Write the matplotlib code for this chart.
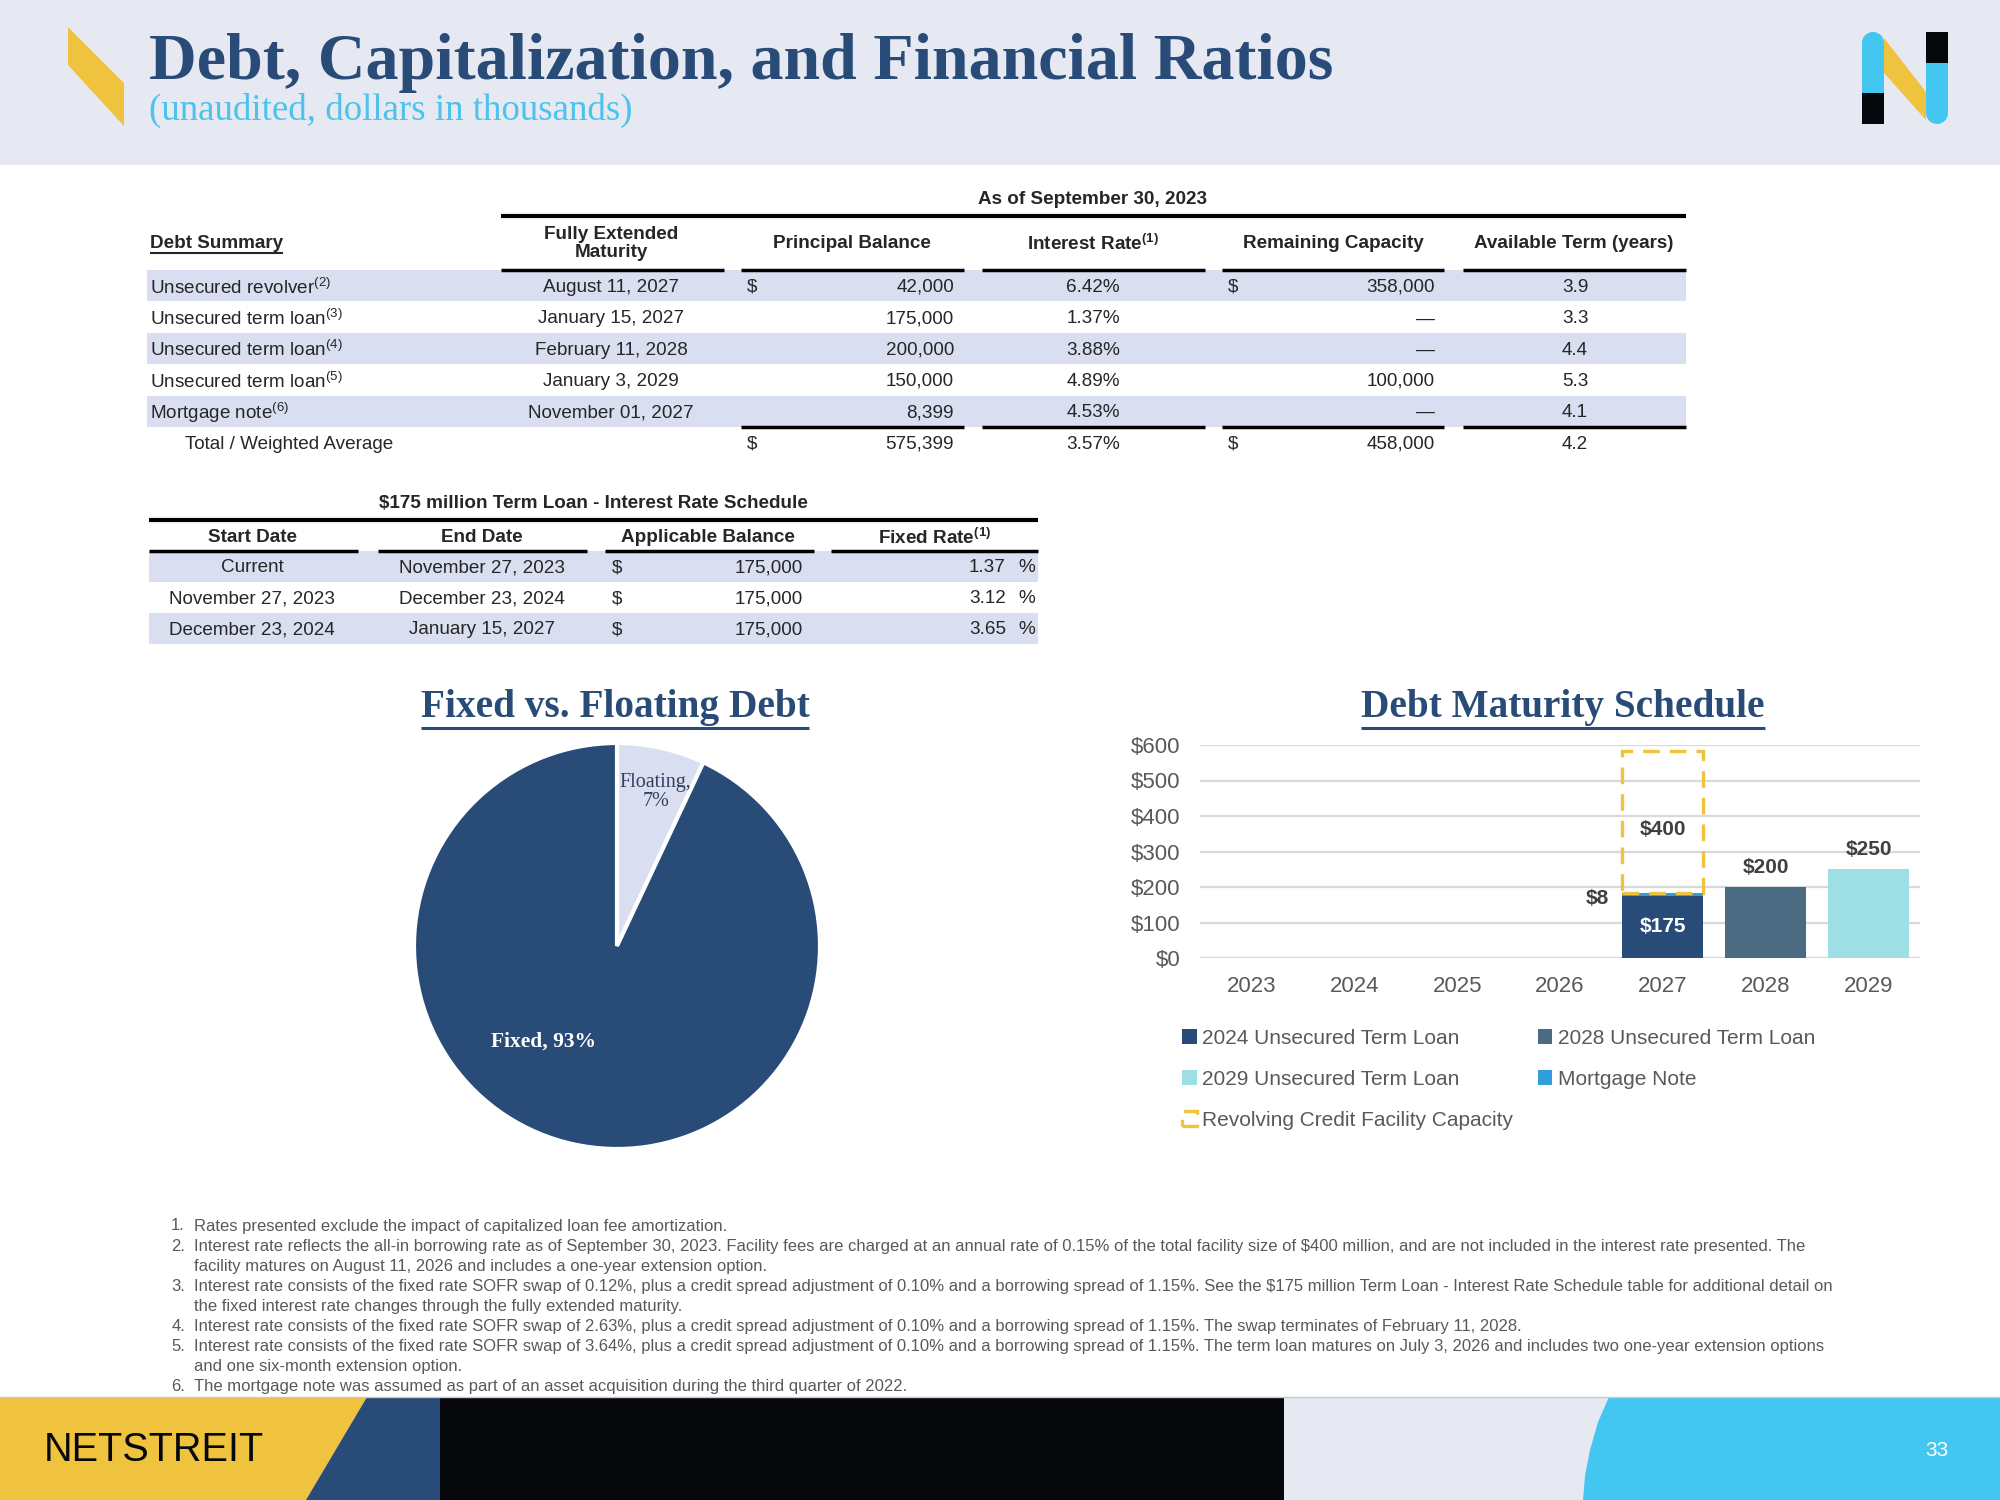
import matplotlib
matplotlib.use("Agg")
import matplotlib.pyplot as plt
from matplotlib.patches import Polygon, Rectangle, Circle

plt.rcParams['font.family'] = ['Liberation Sans', 'DejaVu Sans']

NAVY = '#284B78'
SLATE = '#4B6B83'
AQUA = '#9EDFE6'
BLUE = '#2E9FDA'
YELLOW = '#F0C33F'
CYAN = '#43C6EF'
PALE = '#E6E9F2'
SHADE = '#D9DFF0'
INK = '#262626'
GREY = '#595959'
SERIF = ['Liberation Serif', 'DejaVu Serif']

# ---- debt summary
debt_names = ["Unsecured revolver", "Unsecured term loan", "Unsecured term loan",
              "Unsecured term loan", "Mortgage note"]
debt_notes = ["2", "3", "4", "5", "6"]
maturity = ["August 11, 2027", "January 15, 2027", "February 11, 2028",
            "January 3, 2029", "November 01, 2027"]
principal = [42000, 175000, 200000, 150000, 8399]
rates = [6.42, 1.37, 3.88, 4.89, 4.53]
capacity = [358000, 0, 0, 100000, 0]
term_years = [3.9, 3.3, 4.4, 5.3, 4.1]
total_rate = 3.57
total_term = 4.2

# ---- $175m term loan schedule
sched_start = ["Current", "November 27, 2023", "December 23, 2024"]
sched_end = ["November 27, 2023", "December 23, 2024", "January 15, 2027"]
sched_balance = [175000, 175000, 175000]
sched_rate = [1.37, 3.12, 3.65]

# ---- pie
pie_labels = ["Floating", "Fixed"]
pie_shares = [7, 93]

# ---- maturity schedule ($ millions)
years = ["2023", "2024", "2025", "2026", "2027", "2028", "2029"]
term24 = [0, 0, 0, 0, 175, 0, 0]
mortgage = [0, 0, 0, 0, 8, 0, 0]
term28 = [0, 0, 0, 0, 0, 200, 0]
term29 = [0, 0, 0, 0, 0, 0, 250]
revolver = [0, 0, 0, 0, 400, 0, 0]

footnotes = [
    ("1.", "Rates presented exclude the impact of capitalized loan fee amortization."),
    ("2.", "Interest rate reflects the all-in borrowing rate as of September 30, 2023. Facility fees are charged at an annual rate of 0.15% of the total facility size of $400 million, and are not included in the interest rate presented. The"),
    ("", "facility matures on August 11, 2026 and includes a one-year extension option."),
    ("3.", "Interest rate consists of the fixed rate SOFR swap of 0.12%, plus a credit spread adjustment of 0.10% and a borrowing spread of 1.15%. See the $175 million Term Loan - Interest Rate Schedule table for additional detail on"),
    ("", "the fixed interest rate changes through the fully extended maturity."),
    ("4.", "Interest rate consists of the fixed rate SOFR swap of 2.63%, plus a credit spread adjustment of 0.10% and a borrowing spread of 1.15%. The swap terminates of February 11, 2028."),
    ("5.", "Interest rate consists of the fixed rate SOFR swap of 3.64%, plus a credit spread adjustment of 0.10% and a borrowing spread of 1.15%. The term loan matures on July 3, 2026 and includes two one-year extension options"),
    ("", "and one six-month extension option."),
    ("6.", "The mortgage note was assumed as part of an asset acquisition during the third quarter of 2022."),
]

fig = plt.figure(figsize=(20, 15), dpi=100)
bg = fig.add_axes([0, 0, 1, 1])
bg.set_xlim(0, 2000)
bg.set_ylim(1500, 0)
bg.axis('off')

FS = 13.6  # table text


def txt(x, y, s, ha='left', bold=False, size=FS, color=INK, **kw):
    return bg.text(x, y + 1.5, s, ha=ha, va='center', fontsize=size,
                   fontweight='bold' if bold else 'normal', color=color, **kw)


def hline(x0, x1, y, lw=2.5, color='black'):
    bg.plot([x0, x1], [y, y], color=color, lw=lw, solid_capstyle='butt')


# header band
bg.add_patch(Rectangle((0, 0), 2000, 165, color=PALE, lw=0))
bg.add_patch(Polygon([(68, 27), (124, 83), (124, 126), (68, 65)], color=YELLOW, lw=0))
bg.text(149, 79, "Debt, Capitalization, and Financial Ratios", family=SERIF,
        fontsize=47.5, fontweight='bold', color=NAVY, va='baseline')
bg.text(149, 110, "(unaudited, dollars in thousands)", family=SERIF,
        fontsize=26.6, color='#4DC3EC', va='center')

# logo
bg.add_patch(Polygon([(1884, 38), (1926, 92), (1926, 120), (1884, 73)], color=YELLOW, lw=0))
bg.add_patch(Rectangle((1862, 43), 22, 50, color=CYAN, lw=0))
bg.add_patch(Circle((1873, 43), 11, color=CYAN, lw=0))
bg.add_patch(Rectangle((1862, 93), 22, 31, color='#07080C', lw=0))
bg.add_patch(Rectangle((1926, 32), 22, 31, color='#07080C', lw=0))
bg.add_patch(Rectangle((1926, 63), 22, 50, color=CYAN, lw=0))
bg.add_patch(Circle((1937, 113), 11, color=CYAN, lw=0))

# ---- debt summary table
row_y = [285.7, 317.4, 348.6, 380.0, 411.0]
tot_y = 442.6
for i in range(0, 5, 2):
    bg.add_patch(Rectangle((147, row_y[i] - 15.5), 1539, 31, color=SHADE, lw=0))

txt(1092, 198, "As of September 30, 2023", ha='center', bold=True)
hline(501, 1686, 215.6, lw=3)
t_ds = txt(150, 242, "Debt Summary", bold=True)
txt(611, 233, "Fully Extended", ha='center', bold=True)
txt(611, 251, "Maturity", ha='center', bold=True)
txt(852, 242, "Principal Balance", ha='center', bold=True)
txt(1093, 242, r"Interest Rate$^{\mathregular{(1)}}$", ha='center', bold=True)
txt(1333, 242, "Remaining Capacity", ha='center', bold=True)
txt(1574, 242, "Available Term (years)", ha='center', bold=True)
for a, b in [(501, 724), (741, 964), (982, 1205), (1222, 1444), (1463, 1686)]:
    hline(a, b, 270.4)
    if a > 600:
        hline(a, b, 427.3)

for i, y in enumerate(row_y):
    txt(150, y, debt_names[i] + r"$^{\mathregular{(" + debt_notes[i] + ")}}$")
    txt(611, y, maturity[i], ha='center')
    if i == 0:
        txt(747, y, "$")
    txt(954, y, f"{principal[i]:,}", ha='right')
    txt(1093, y, f"{rates[i]:.2f}%", ha='center')
    if i == 0:
        txt(1228, y, "$")
    txt(1435, y, f"{capacity[i]:,}" if capacity[i] else "\u2014", ha='right')
    txt(1575, y, f"{term_years[i]:.1f}", ha='center')

txt(185, tot_y, "Total / Weighted Average")
txt(747, tot_y, "$")
txt(954, tot_y, f"{sum(principal):,}", ha='right')
txt(1093, tot_y, f"{total_rate:.2f}%", ha='center')
txt(1228, tot_y, "$")
txt(1435, tot_y, f"{sum(capacity):,}", ha='right')
txt(1575, tot_y, f"{total_term:.1f}", ha='center')

# ---- term loan schedule table
s_y = [566.3, 597.3, 628.5]
for i in (0, 2):
    bg.add_patch(Rectangle((149, s_y[i] - 15.5), 889, 31, color=SHADE, lw=0))
txt(593, 502.5, "$175 million Term Loan - Interest Rate Schedule", ha='center', bold=True)
hline(149, 1038, 520.4, lw=3)
txt(252, 535.7, "Start Date", ha='center', bold=True)
txt(482, 535.7, "End Date", ha='center', bold=True)
txt(708, 535.7, "Applicable Balance", ha='center', bold=True)
txt(935, 535.7, r"Fixed Rate$^{\mathregular{(1)}}$", ha='center', bold=True)
for a, b in [(149, 358), (378, 587), (605, 814), (831, 1038)]:
    hline(a, b, 551)
for i, y in enumerate(s_y):
    txt(252, y, sched_start[i], ha='center')
    txt(482, y, sched_end[i], ha='center')
    txt(612, y, "$")
    txt(803, y, f"{sched_balance[i]:,}", ha='right')
    txt(1006, y, f"{sched_rate[i]:.2f}", ha='right')
    txt(1027, y, "%", ha='center')

# ---- pie
t_pie = bg.text(615, 707, "Fixed vs. Floating Debt", ha='center', va='center',
                family=SERIF, fontsize=28.3, fontweight='bold', color=NAVY)
ax_p = fig.add_axes([414 / 2000, 1 - 1149 / 1500, 406 / 2000, 406 / 1500])
ax_p.pie(pie_shares, colors=['#D9DEF0', NAVY], startangle=90, counterclock=False,
         wedgeprops=dict(edgecolor='white', linewidth=3))
ax_p.set_xlim(-1, 1)
ax_p.set_ylim(-1, 1)
for p in ax_p.patches:
    p.set_clip_on(False)
ax_p.text(0.19, 0.76, f"{pie_labels[0]},\n{pie_shares[0]}%", ha='center', va='center',
          family=SERIF, fontsize=14.5, color='#33405E', linespacing=1.0)
ax_p.text(-0.36, -0.47, f"{pie_labels[1]}, {pie_shares[1]}%", ha='center', va='center',
          family=SERIF, fontsize=15.5, fontweight='bold', color='white')

# ---- maturity bar chart
t_bar = bg.text(1563, 707, "Debt Maturity Schedule", ha='center', va='center',
                family=SERIF, fontsize=28.3, fontweight='bold', color=NAVY)
ax = fig.add_axes([1200 / 2000, 1 - 958 / 1500, 720 / 2000, 213 / 1500])
x = list(range(len(years)))
w = 0.79
b1 = ax.bar(x, term24, w, color=NAVY, label="2024 Unsecured Term Loan", zorder=3)
bm = ax.bar(x, mortgage, w, bottom=term24, color=BLUE, label="Mortgage Note", zorder=3)
b2 = ax.bar(x, term28, w, color=SLATE, label="2028 Unsecured Term Loan", zorder=3)
b3 = ax.bar(x, term29, w, color=AQUA, label="2029 Unsecured Term Loan", zorder=3)
base = [a + b for a, b in zip(term24, mortgage)]
br = ax.bar(x, revolver, w, bottom=base, fill=False,
            edgecolor=[YELLOW if v else 'none' for v in revolver], lw=2.4,
            linestyle=(0, (5, 3)), label="Revolving Credit Facility Capacity", zorder=4)
ax.set_xlim(-0.5, 6.5)
ax.set_ylim(0, 600)
ax.set_yticks(range(0, 601, 100))
ax.set_yticklabels([f"${v}" for v in range(0, 601, 100)])
ax.set_xticks(x)
ax.set_xticklabels(years)
ax.tick_params(length=0, labelsize=16, colors=GREY)
ax.tick_params(axis='y', pad=14)
ax.tick_params(axis='x', pad=13)
ax.grid(axis='y', color='#D9D9D9', lw=1.6, zorder=0)
for s in ax.spines.values():
    s.set_visible(False)
ax.axhline(0, color='#D9D9D9', lw=1.6, zorder=1)
ax.set_facecolor('none')

lab = dict(fontsize=15, fontweight='bold', color='#404040', ha='center', va='center')
for i in x:
    if term24[i]:
        ax.text(i, term24[i] / 2, f"${term24[i]}", **dict(lab, color='white'))
    if mortgage[i]:
        ax.text(i - 0.52, base[i] - 14, f"${mortgage[i]}", **dict(lab, ha='right'))
    if revolver[i]:
        ax.text(i, base[i] + revolver[i] * 0.45, f"${revolver[i]}", **lab)
    if term28[i]:
        ax.text(i, term28[i] + 55, f"${term28[i]}", **lab)
    if term29[i]:
        ax.text(i, term29[i] + 55, f"${term29[i]}", **lab)
legend_handles = [b1, b3, br, b2, bm]
leg = fig.legend(handles=legend_handles, loc='upper left',
                 bbox_to_anchor=(1182 / 2000, 1 - 1029 / 1500), ncol=2, frameon=False,
                 fontsize=15, labelcolor=GREY, handlelength=0.7, handleheight=0.7,
                 handletextpad=0.25, columnspacing=1.2, labelspacing=1.05,
                 borderaxespad=0, borderpad=0)
for h in leg.legend_handles:
    if h.get_fill() is False:
        h.set_edgecolor(YELLOW)

# ---- footnotes
for k, (num, line) in enumerate(footnotes):
    y = 1224.5 + k * 20.1
    if num:
        txt(185, y, num, ha='right', size=12, color=GREY)
    txt(194, y, line, size=12, color=GREY)

# ---- footer
bg.add_patch(Rectangle((0, 1397), 2000, 103, color=PALE, lw=0))
bg.plot([0, 2000], [1396.5, 1396.5], color='#C8C8C8', lw=1)
bg.add_patch(Polygon([(0, 1397), (367, 1397), (306, 1500), (0, 1500)], color=YELLOW, lw=0))
bg.add_patch(Polygon([(367, 1397), (440, 1397), (440, 1500), (306, 1500)], color=NAVY, lw=0))
bg.add_patch(Rectangle((440, 1397), 844, 103, color='#07080C', lw=0))
bg.add_patch(Polygon([(1609, 1397), (1598, 1422), (1590, 1450), (1585, 1476), (1583, 1500),
                      (2000, 1500), (2000, 1397)], color=CYAN, lw=0))
bg.text(44, 1450, "NETSTREIT", fontsize=28.5, color='#07080C', va='center')
bg.text(1937, 1450, "33", fontsize=15, color='white', va='center', ha='center')

# underlines for the section titles
fig.canvas.draw()
r = fig.canvas.get_renderer()
inv = bg.transData.inverted()
for t, lw, off in [(t_ds, 1.5, 1), (t_pie, 2.2, 2), (t_bar, 2.2, 2)]:
    bb = t.get_window_extent(renderer=r)
    (x0, y0), (x1, y1) = inv.transform([(bb.x0, bb.y0), (bb.x1, bb.y1)])
    hline(x0, x1, max(y0, y1) + off, lw=lw, color=t.get_color())

fig.savefig("out.png", dpi=100, facecolor='white')
